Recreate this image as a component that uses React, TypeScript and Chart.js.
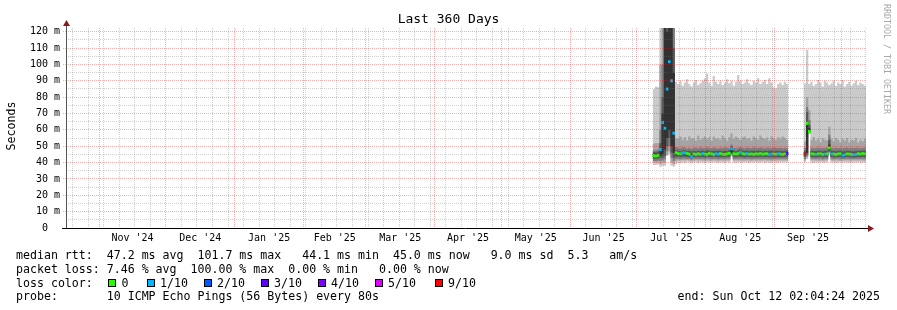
import React, { useEffect, useRef } from 'react';
import { Chart, registerables } from 'chart.js';

Chart.register(...registerables);

// ---- time axis: days after the graph start (end minus 360 days) ----
const START_MS = Date.UTC(2024, 9, 17, 2, 4, 24);
const END_MS = Date.UTC(2025, 9, 12, 2, 4, 24);
const DAY_MS = 86400000;
const SPAN_DAYS = (END_MS - START_MS) / DAY_MS; // 360

// first day (offset from start) that holds a data column
const FIRST_DAY = 264;

// median round trip time (ms) per day
const median = [
  44.3, 44.0, 44.5, 48, 64.5, 61, 85, 101.7, 90, 58,
  46, 45.5, 45.3, 45.8, 46, 45.5, 45.2, 43.8, 45.3, 45,
  45.4, 45.1, 45.5, 45.2, 45, 45.6, 45.3, 45, 45.4, 45.2,
  45.5, 45.1, 45, 45.3, 45.6, 48.5, 45.4, 45.2, 45.5, 46.2,
  45.4, 45.2, 45.5, 45.1, 45.3, 45, 45.4, 45.2, 45.5, 45.1,
  45.3, 45.4, 45, 45.2, 45.3, 45.1, 45.4, 45.2, 45, 45.3,
  45.5, null, null, null, null, null, null, null, 45.2, 64,
  59, 45.3, 45.2, 45, 45.3, 45.4, 45, 45.2, 45.3, 49,
  45.3, 45.2, 45, 45.3, 45.4, 44.5, 44.8, 45.3, 45.2, 45,
  44.8, 45, 45.4, 45.2, 45.5, 45.3,
];

// lost pings out of 10 per day
const loss = [
  0, 0, 0, 1, 1, 1, 1, 1, 1, 1,
  0, 0, 0, 1, 1, 0, 0, 1, 0, 0,
  0, 0, 1, 0, 0, 0, 0, 0, 1, 1,
  0, 0, 0, 0, 0, 1, 0, 0, 0, 1,
  0, 0, 1, 0, 0, 0, 0, 0, 0, 0,
  0, 0, 1, 1, 0, 0, 1, 0, 0, 0,
  3, null, null, null, null, null, null, null, 9, 0,
  0, 0, 0, 1, 0, 0, 0, 1, 0, 0,
  1, 0, 0, 0, 0, 1, 1, 0, 0, 0,
  1, 1, 0, 0, 0, 0,
];

// smoke band 1 (outermost ping pair: min .. max)
const smoke1Low = [
  38.5, 38.5, 38.8, 37.5, 38, 38, 44, 45, 38, 37.5,
  39, 40, 39.6, 40.2, 39.8, 40.4, 40, 39.5, 40.1, 40.3,
  39.8, 40.2, 40, 39.6, 40.3, 40.1, 39.9, 40.4, 40, 39.7,
  40.2, 40, 39.8, 40.3, 40.1, 44, 40, 39.7, 40.2, 40,
  39.9, 40.3, 40.1, 39.8, 40.2, 40, 40.4, 39.9, 40.1, 40.3,
  39.8, 40.2, 40, 39.7, 40.3, 40.1, 39.9, 40.2, 40, 40.3,
  40, null, null, null, null, null, null, null, 40.2, 42,
  57.5, 40.1, 39.8, 40.2, 40, 40.3, 39.9, 40.1, 40.2, 45,
  40, 40.2, 39.8, 40.1, 40.3, 39.9, 40.2, 40, 40.1, 39.8,
  40.2, 40, 40.3, 39.9, 40.1, 40,
];
const smoke1High = [
  85, 86.5, 86, 125, 125, 125, 125, 125, 125, 125,
  89.5, 88, 90, 87, 89, 91, 88, 86.5, 89, 90.5,
  87.5, 88.5, 90, 91.5, 94.5, 89, 87, 93, 89.5, 88,
  90, 87.5, 89, 91, 88.5, 90, 87, 89.5, 93.5, 90,
  88, 89, 91, 88.5, 87.5, 90, 89, 91.5, 88, 89.5,
  90.5, 88, 91.5, 89, 86, 85.5, 88, 89, 87.5, 89.5,
  88, null, null, null, null, null, null, null, 88.5, 109,
  88, 89.5, 87, 88, 90.5, 89, 86.5, 90, 89, 87.5,
  88.5, 90, 87, 89, 88, 90.5, 86.5, 88, 89.5, 87,
  88.5, 90, 87.5, 89, 88, 87,
];

// smoke band 2
const smoke2Low = [
  40, 40, 40.2, 39, 40, 40, 45, 47, 40, 39,
  41, 41.4, 41.2, 41.5, 41.3, 41.6, 41.2, 41, 41.4, 41.5,
  41.2, 41.4, 41.3, 41.1, 41.5, 41.3, 41.2, 41.4, 41.3, 41.1,
  41.4, 41.3, 41.2, 41.5, 41.3, 44.5, 41.2, 41.4, 41.3, 41.5,
  41.3, 41.2, 41.4, 41.3, 41.1, 41.4, 41.3, 41.5, 41.2, 41.3,
  41.4, 41.2, 41.3, 41.1, 41.4, 41.3, 41.2, 41.5, 41.3, 41.4,
  41.3, null, null, null, null, null, null, null, 41.2, 43,
  58, 41.3, 41.4, 41.2, 41.3, 41.5, 41.1, 41.3, 41.4, 46,
  41.3, 41.2, 41.4, 41.3, 41.1, 41.3, 41.2, 41.4, 41.3, 41.2,
  41.4, 41.3, 41.2, 41.4, 41.3, 41.2,
];
const smoke2High = [
  51.5, 52, 51.8, 100, 125, 125, 125, 125, 125, 125,
  55, 54.5, 56, 54, 55.5, 53.5, 56, 54.5, 55, 53.5,
  56.5, 54, 55, 56, 54.5, 55.5, 53.5, 56, 54.5, 55,
  54, 56.5, 55, 53.5, 55.5, 58, 54.5, 56, 55, 54,
  55.5, 56, 54.5, 55, 53.5, 56, 55, 54, 56.5, 55,
  54.5, 55.5, 53.5, 56, 55, 54, 55.5, 54.5, 56, 55,
  54, null, null, null, null, null, null, null, 53, 80,
  72, 54, 55.5, 53.5, 54.5, 52.5, 55, 54, 53.5, 62,
  54.5, 53, 55, 54, 52.5, 54.5, 53.5, 55, 52.5, 54,
  53.5, 55, 52.5, 54, 53, 54.5,
];

// smoke band 3
const smoke3Low = [
  41, 41, 41.2, 41, 41.5, 42, 47, 50, 43, 41,
  42.2, 42.4, 42.1, 42.5, 42.3, 42.2, 42.4, 41.8, 42.3, 42.5,
  42.2, 42.4, 42.3, 42.1, 42.5, 42.3, 42.2, 42.4, 42.3, 42.1,
  42.4, 42.3, 42.2, 42.5, 42.3, 45, 42.2, 42.4, 42.3, 42.5,
  42.3, 42.2, 42.4, 42.3, 42.1, 42.4, 42.3, 42.5, 42.2, 42.3,
  42.4, 42.2, 42.3, 42.1, 42.4, 42.3, 42.2, 42.5, 42.3, 42.4,
  42.3, null, null, null, null, null, null, null, 42.2, 44,
  58.5, 42.3, 42.4, 42.2, 42.3, 42.5, 42.1, 42.3, 42.4, 46.5,
  42.3, 42.2, 42.4, 42.3, 42.1, 42.3, 42.2, 42.4, 42.3, 42.2,
  42.4, 42.3, 42.2, 42.4, 42.3, 42.2,
];
const smoke3High = [
  47.5, 47.5, 48, 60, 100, 125, 125, 125, 125, 125,
  49.5, 49, 48.8, 49.5, 49.2, 48.6, 49, 48.5, 49.3, 49,
  48.8, 49.4, 49, 48.7, 49.5, 49.1, 48.8, 49.3, 49, 48.6,
  49.2, 48.9, 49.4, 49, 48.7, 51, 49.1, 48.8, 49.3, 49.6,
  49, 48.7, 49.2, 49, 48.8, 49.4, 49.1, 48.9, 49.3, 49,
  48.7, 49.2, 49, 48.8, 49.4, 49, 48.9, 49.2, 48.8, 49.1,
  49, null, null, null, null, null, null, null, 49, 74,
  66, 49.2, 48.8, 49, 49.3, 48.7, 49.1, 48.9, 49.2, 57,
  49, 48.8, 49.2, 48.9, 49.1, 48.7, 49, 49.3, 48.8, 49.1,
  48.9, 49.2, 49, 48.8, 49.1, 49,
];

// smoke band 4
const smoke4Low = [
  42.3, 42.3, 42.5, 43, 43, 44, 50, 55, 46, 43,
  43.4, 43.5, 43.3, 43.6, 43.5, 43.4, 43.3, 42.8, 43.4, 43.3,
  43.5, 43.3, 43.4, 43.2, 43.5, 43.4, 43.3, 43.5, 43.4, 43.3,
  43.4, 43.3, 43.2, 43.5, 43.4, 45.5, 43.4, 43.3, 43.5, 43.6,
  43.4, 43.3, 43.5, 43.3, 43.4, 43.2, 43.4, 43.3, 43.5, 43.3,
  43.4, 43.5, 43.3, 43.4, 43.3, 43.2, 43.4, 43.3, 43.3, 43.4,
  43.5, null, null, null, null, null, null, null, 43.4, 45,
  58.5, 43.4, 43.3, 43.3, 43.4, 43.5, 43.2, 43.4, 43.3, 47,
  43.4, 43.3, 43.2, 43.4, 43.4, 43, 43.2, 43.4, 43.3, 43.2,
  43.1, 43.2, 43.4, 43.3, 43.5, 43.4,
];
const smoke4High = [
  46.5, 46.5, 46.8, 52, 80, 125, 125, 125, 125, 110,
  47.5, 47.2, 47, 47.4, 47.6, 47.1, 47.3, 46.8, 47.2, 47,
  47.3, 47.1, 47.4, 47, 47.5, 47.2, 47, 47.3, 47.1, 47.4,
  47.2, 47, 47.3, 47.1, 47.5, 50, 47.2, 47, 47.4, 48,
  47.2, 47.1, 47.4, 47, 47.2, 47.3, 47.1, 47.4, 47.2, 47,
  47.3, 47.1, 47.2, 47.4, 47, 47.2, 47.3, 47.1, 47, 47.2,
  47.4, null, null, null, null, null, null, null, 47.3, 71,
  63, 47.2, 47.1, 47, 47.3, 47.2, 47, 47.2, 47.3, 54,
  47.2, 47.1, 47, 47.3, 47.2, 46.8, 47, 47.2, 47.1, 47,
  46.9, 47.1, 47.3, 47.2, 47.4, 47.2,
];

// smoke band 5 (innermost)
const smoke5Low = [
  43.4, 43.2, 43.6, 44, 45, 48, 55, 60, 50, 46,
  44.6, 44.5, 44.3, 44.7, 44.8, 44.5, 44.3, 43.2, 44.4, 44.2,
  44.5, 44.2, 44.6, 44.3, 44.2, 44.6, 44.4, 44.2, 44.5, 44.3,
  44.6, 44.2, 44.1, 44.4, 44.7, 46, 44.5, 44.3, 44.6, 45,
  44.5, 44.3, 44.6, 44.2, 44.4, 44.1, 44.5, 44.3, 44.6, 44.2,
  44.4, 44.5, 44.1, 44.3, 44.4, 44.2, 44.5, 44.3, 44.1, 44.4,
  44.6, null, null, null, null, null, null, null, 44.3, 46,
  58.5, 44.4, 44.3, 44.1, 44.4, 44.5, 44.1, 44.3, 44.4, 47.5,
  44.4, 44.3, 44.1, 44.4, 44.5, 43.6, 43.9, 44.4, 44.3, 44.1,
  43.9, 44.1, 44.5, 44.3, 44.6, 44.4,
];
const smoke5High = [
  45.5, 45.3, 45.7, 49, 70, 125, 120, 125, 125, 95,
  46.4, 46.2, 46, 46.5, 46.6, 46.2, 46.1, 45.2, 46.2, 46,
  46.3, 46.1, 46.4, 46.1, 46, 46.5, 46.2, 46, 46.3, 46.1,
  46.4, 46.1, 46, 46.2, 46.5, 49.5, 46.3, 46.1, 46.4, 47,
  46.3, 46.1, 46.4, 46, 46.2, 46, 46.3, 46.1, 46.4, 46,
  46.2, 46.3, 46, 46.1, 46.2, 46, 46.3, 46.1, 46, 46.2,
  46.4, null, null, null, null, null, null, null, 46.1, 64,
  61, 46.2, 46.1, 46, 46.2, 46.3, 46, 46.1, 46.2, 51,
  46.2, 46.1, 46, 46.2, 46.3, 45.6, 45.8, 46.2, 46.1, 46,
  45.8, 46, 46.3, 46.1, 46.4, 46.2,
];

// tick definitions
const Y_MAX = 122.3;
const Y_TICKS = [0, 5, 10, 15, 20, 25, 30, 35, 40, 45, 50, 55, 60, 65, 70, 75, 80, 85, 90, 95, 100, 105, 110, 115, 120];
const MONTHS = [
  [2024, 10], [2024, 11], [2025, 0], [2025, 1], [2025, 2], [2025, 3],
  [2025, 4], [2025, 5], [2025, 6], [2025, 7], [2025, 8], [2025, 9],
];
const MONTH_LABELS = ["Nov '24", "Dec '24", "Jan '25", "Feb '25", "Mar '25", "Apr '25", "May '25", "Jun '25", "Jul '25", "Aug '25", "Sep '25"];
const FIRST_SUNDAY = [2024, 9, 20];

const LOSS_COLORS: Record<number, string> = {
  0: '#26ff00', 1: '#00b8ff', 2: '#0059ff', 3: '#5e00ff', 4: '#7e00ff', 5: '#dd00ff', 9: '#ff0000',
};
const LEGEND_LOSS = [
  { key: 0, label: '0' }, { key: 1, label: '1/10' }, { key: 2, label: '2/10' }, { key: 3, label: '3/10' },
  { key: 4, label: '4/10' }, { key: 5, label: '5/10' }, { key: 9, label: '9/10' },
];
const SMOKE_COLORS = ['#cacaca', '#a4a4a4', '#7e7e7e', '#585858', '#323232'];

const TITLE = 'Last 360 Days';
const Y_TITLE = 'Seconds';
const WATERMARK = 'RRDTOOL / TOBI OETIKER';
const LINE_RTT = 'median rtt:  47.2 ms avg  101.7 ms max   44.1 ms min  45.0 ms now   9.0 ms sd  5.3   am/s';
const LINE_LOSS = 'packet loss: 7.46 % avg  100.00 % max  0.00 % min   0.00 % now';
const LINE_COLOR = 'loss color:';
const LINE_PROBE = 'probe:       10 ICMP Echo Pings (56 Bytes) every 80s';
const LINE_END = 'end: Sun Oct 12 02:04:24 2025';

const MONO = '"DejaVu Sans Mono", monospace';

const dayOf = (y: number, m: number, d: number) => (Date.UTC(y, m, d) - START_MS) / DAY_MS;

type XTick = { v: number; kind: 'week' | 'month' | 'label'; label: string };
function buildXTicks(): XTick[] {
  const monthVals = MONTHS.map(([y, m]) => dayOf(y, m, 1));
  const ticks: XTick[] = [];
  monthVals.forEach((v) => ticks.push({ v, kind: 'month', label: '' }));
  for (let i = 0; i < MONTH_LABELS.length; i++) {
    ticks.push({ v: (monthVals[i] + monthVals[i + 1]) / 2, kind: 'label', label: MONTH_LABELS[i] });
  }
  let w = dayOf(FIRST_SUNDAY[0], FIRST_SUNDAY[1], FIRST_SUNDAY[2]);
  while (w < SPAN_DAYS) {
    if (!monthVals.some((mv) => Math.abs(mv - w) < 0.01)) ticks.push({ v: w, kind: 'week', label: '' });
    w += 7;
  }
  return ticks.filter((t) => t.v >= 0 && t.v <= SPAN_DAYS).sort((a, b) => a.v - b.v);
}
const X_TICKS = buildXTicks();

// step outline for one band edge: each day's value spans [day, day + 1)
function stepPoints(vals: (number | null)[]) {
  const out: { x: number; y: number | null }[] = [];
  vals.forEach((v, i) => {
    if (v == null) return;
    const x = FIRST_DAY + i;
    out.push({ x, y: v });
    const next = vals[i + 1];
    if (next == null) {
      out.push({ x: x + 1, y: v });
      if (i + 1 < vals.length) out.push({ x: x + 1.5, y: null });
    }
  });
  return out;
}

const decorPlugin = {
  id: 'decor',
  afterDraw(chart: any) {
    const ctx: CanvasRenderingContext2D = chart.ctx;
    const { left, right, top, bottom } = chart.chartArea;
    ctx.save();
    // axes
    ctx.lineWidth = 1;
    ctx.strokeStyle = '#555';
    ctx.beginPath();
    ctx.moveTo(left + 0.5, bottom + 1);
    ctx.lineTo(left + 0.5, top - 5);
    ctx.stroke();
    ctx.strokeStyle = '#000';
    ctx.beginPath();
    ctx.moveTo(left - 4, bottom + 0.5);
    ctx.lineTo(right + 3, bottom + 0.5);
    ctx.stroke();
    // arrows
    ctx.fillStyle = '#8b1a1a';
    ctx.beginPath();
    ctx.moveTo(left + 0.5, top - 8);
    ctx.lineTo(left - 3, top - 2);
    ctx.lineTo(left + 4, top - 2);
    ctx.closePath();
    ctx.fill();
    ctx.beginPath();
    ctx.moveTo(right + 8, bottom + 0.5);
    ctx.lineTo(right + 2, bottom - 3);
    ctx.lineTo(right + 2, bottom + 4);
    ctx.closePath();
    ctx.fill();

    // title
    ctx.fillStyle = '#000';
    ctx.font = `13px ${MONO}`;
    ctx.textAlign = 'center';
    ctx.textBaseline = 'alphabetic';
    ctx.fillText(TITLE, 448.5, 23);

    // y title
    ctx.save();
    ctx.translate(12, 126);
    ctx.rotate(-Math.PI / 2);
    ctx.font = `11.6px ${MONO}`;
    ctx.textAlign = 'center';
    ctx.textBaseline = 'middle';
    ctx.fillText(Y_TITLE, 0, 0);
    ctx.restore();

    // watermark
    ctx.save();
    ctx.translate(886, 59);
    ctx.rotate(Math.PI / 2);
    ctx.font = `8.3px ${MONO}`;
    ctx.fillStyle = '#a8a8a8';
    ctx.textAlign = 'center';
    ctx.textBaseline = 'middle';
    ctx.fillText(WATERMARK, 0, 0);
    ctx.restore();

    // legend
    const x0 = 16;
    ctx.font = `11.6px ${MONO}`;
    ctx.fillStyle = '#000';
    ctx.textAlign = 'left';
    ctx.textBaseline = 'alphabetic';
    ctx.fillText(LINE_RTT, x0, 259);
    ctx.fillText(LINE_LOSS, x0, 272.7);
    ctx.fillText(LINE_COLOR, x0, 286.5);
    ctx.fillText(LINE_PROBE, x0, 300.3);
    ctx.textAlign = 'right';
    ctx.fillText(LINE_END, 880, 300.3);
    ctx.textAlign = 'left';
    const boxX = [108, 146.5, 203.5, 260.5, 317.5, 374.5, 434.5];
    LEGEND_LOSS.forEach((item, i) => {
      const bx = Math.round(boxX[i]);
      ctx.fillStyle = LOSS_COLORS[item.key];
      ctx.fillRect(bx, 279, 8, 8);
      ctx.strokeStyle = '#000';
      ctx.lineWidth = 1;
      ctx.strokeRect(bx + 0.5, 279.5, 7, 7);
      ctx.fillStyle = '#000';
      ctx.fillText(item.label, boxX[i] + 13.5, 286.5);
    });
    ctx.restore();
  },
};

export default function App() {
  const ref = useRef<HTMLCanvasElement | null>(null);

  useEffect(() => {
    if (!ref.current) return;
    const medPoints: { x: number; y: [number, number] }[] = [];
    const medColors: string[] = [];
    median.forEach((m, i) => {
      if (m == null) return;
      medPoints.push({ x: FIRST_DAY + i + 0.5, y: [m - 0.45, m + 0.45] });
      medColors.push(LOSS_COLORS[(loss[i] ?? 0) as number] || '#26ff00');
    });

    const edge = (label: string, vals: (number | null)[], color: string | null) => ({
      type: 'line' as const,
      label,
      data: stepPoints(vals),
      stepped: true,
      spanGaps: false,
      borderWidth: 0,
      borderColor: 'rgba(0,0,0,0)',
      pointRadius: 0,
      backgroundColor: color || 'rgba(0,0,0,0)',
      fill: color ? '+1' : false,
    });

    const datasets: any[] = [
      {
        type: 'bar',
        label: 'median',
        data: medPoints,
        backgroundColor: medColors,
        barPercentage: 1,
        categoryPercentage: 1,
        borderWidth: 0,
        grouped: false,
        inflateAmount: 0.75,
      },
      edge('smoke5 high', smoke5High, SMOKE_COLORS[4]),
      edge('smoke5 low', smoke5Low, null),
      edge('smoke4 high', smoke4High, SMOKE_COLORS[3]),
      edge('smoke4 low', smoke4Low, null),
      edge('smoke3 high', smoke3High, SMOKE_COLORS[2]),
      edge('smoke3 low', smoke3Low, null),
      edge('smoke2 high', smoke2High, SMOKE_COLORS[1]),
      edge('smoke2 low', smoke2Low, null),
      edge('smoke1 high', smoke1High, SMOKE_COLORS[0]),
      edge('smoke1 low', smoke1Low, null),
    ];

    const RED = 'rgba(220,40,40,0.36)';
    const GRAY = 'rgba(110,110,110,0.32)';
    const NONE = 'rgba(0,0,0,0)';

    const chart = new Chart(ref.current, {
      type: 'line',
      data: { datasets },
      plugins: [decorPlugin],
      options: {
        animation: false,
        responsive: false,
        devicePixelRatio: 1,
        events: [],
        layout: { padding: { top: 28, right: 31, left: 0, bottom: 0 } },
        plugins: {
          legend: { display: false },
          tooltip: { enabled: false },
          title: { display: false },
          filler: { propagate: false },
        },
        scales: {
          x: {
            type: 'linear',
            min: 0,
            max: SPAN_DAYS,
            offset: false,
            afterBuildTicks: (axis: any) => {
              axis.ticks = X_TICKS.map((t) => ({ value: t.v }));
            },
            afterFit: (s: any) => {
              s.height = 82;
            },
            grid: {
              offset: false,
              z: 1,
              drawTicks: false,
              lineWidth: 1,
              color: (c: any) => {
                const t = X_TICKS[c.index];
                if (!t) return NONE;
                return t.kind === 'month' ? RED : t.kind === 'week' ? GRAY : NONE;
              },
            },
            border: { display: false, dash: [1, 1] },
            ticks: {
              autoSkip: false,
              maxRotation: 0,
              minRotation: 0,
              padding: 4,
              color: '#000',
              font: { family: MONO, size: 10 },
              callback: (_v: any, i: number) => (X_TICKS[i] ? X_TICKS[i].label : ''),
            },
          },
          y: {
            type: 'linear',
            min: 0,
            max: Y_MAX,
            afterBuildTicks: (axis: any) => {
              axis.ticks = Y_TICKS.map((v) => ({ value: v }));
            },
            afterFit: (s: any) => {
              s.width = 66;
            },
            grid: {
              z: 1,
              drawTicks: true,
              tickLength: 3,
              lineWidth: 1,
              tickBorderDash: [1, 1],
              color: (c: any) => (c.tick && c.tick.value % 10 === 0 ? RED : GRAY),
              tickColor: (c: any) => (c.tick && c.tick.value % 10 === 0 ? RED : NONE),
            },
            border: { display: false, dash: [1, 1] },
            ticks: {
              autoSkip: false,
              padding: 3,
              color: '#000',
              font: { family: MONO, size: 10 },
              callback: (v: any) => {
                const n = Number(v);
                if (n % 10 !== 0) return '';
                return n === 0 ? '0  ' : `${n} m`;
              },
            },
          },
        },
      } as any,
    });
    return () => chart.destroy();
  }, []);

  return (
    <div style={{ position: 'absolute', left: 0, top: 0, width: 897, height: 310, background: '#fff' }}>
      <canvas ref={ref} width={897} height={310} style={{ display: 'block', width: 897, height: 310 }} />
    </div>
  );
}
